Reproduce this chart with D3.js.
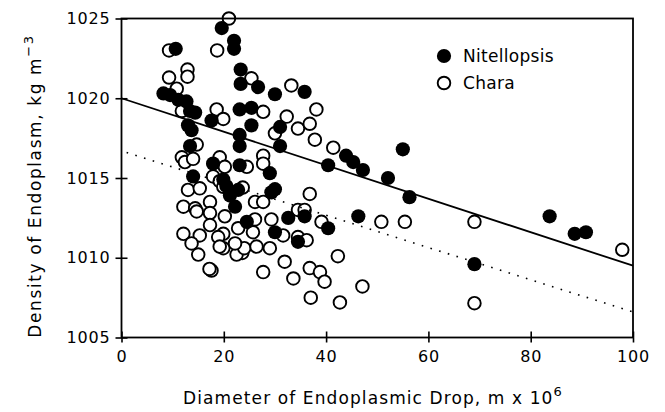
<!DOCTYPE html>
<html>
<head>
<meta charset="utf-8">
<script src="https://cdn.jsdelivr.net/npm/d3@7"></script>
<style>
  body { margin: 0; background: #fff; }
  text { font-family: "DejaVu Sans", sans-serif; fill: #000; }
</style>
</head>
<body>
<div id="chart"></div>
<script>
// Nitellopsis (filled circles)
const nitX = [10.6, 19.6, 22.0, 22.0, 8.2, 9.5, 11.1, 12.7, 13.4, 14.4, 17.6, 13.0, 13.7, 13.4, 17.9, 14.0, 19.9,
  23.3, 23.3, 26.7, 30.0, 35.8, 23.1, 25.4, 25.4, 23.1, 23.1, 31.0, 31.0, 43.9, 40.4, 29.0, 23.1,
  20.5, 22.8, 29.3, 30.0, 21.2, 22.2, 24.5, 32.6, 35.8, 40.4, 30.0, 34.5,
  55.0, 45.3, 47.2, 52.1, 56.3, 46.3, 69.0, 83.7, 88.6, 90.8];
const nitY = [1023.1, 1024.4, 1023.6, 1023.1, 1020.3, 1020.2, 1019.9, 1019.8, 1019.2, 1019.1, 1018.6, 1018.3, 1018.0, 1017.0, 1015.9, 1015.1, 1014.9,
  1021.8, 1020.9, 1020.7, 1020.25, 1020.4, 1019.3, 1019.4, 1018.3, 1017.7, 1017.0, 1018.2, 1017.0, 1016.4, 1015.8, 1015.3, 1015.8,
  1014.5, 1014.25, 1014.1, 1014.3, 1013.9, 1013.2, 1012.25, 1012.5, 1012.6, 1011.85, 1011.6, 1011.0,
  1016.8, 1016.0, 1015.5, 1015.0, 1013.8, 1012.6, 1009.6, 1012.6, 1011.5, 1011.6];

// Chara (open circles)
const charaX = [21.0, 9.3, 18.7, 12.9, 12.9, 9.3, 10.8, 11.8, 18.6, 19.9, 25.4, 33.2, 27.7, 30.0, 32.3, 34.5, 36.8, 38.1,
  37.8, 41.4, 27.7, 27.7, 24.5, 19.2, 20.2, 14.7, 11.8, 12.4, 14.0, 17.9, 19.2, 19.9, 23.7, 36.8,
  26.1, 27.7, 20.2, 26.1, 29.3, 34.5, 35.8, 39.1, 31.6, 34.5, 36.2, 19.9, 19.9, 22.8, 25.7,
  23.0, 23.6, 22.5, 24.0, 22.2, 26.4, 29.0, 31.9, 27.7, 36.8, 38.8, 33.6, 39.7, 37.0, 42.7, 42.3,
  13.0, 15.3, 17.3, 12.1, 14.4, 14.7, 17.3, 17.3, 12.1, 15.3, 18.9, 13.7, 19.2, 15.0, 17.6, 17.2,
  50.8, 55.4, 69.0, 47.1, 69.0, 97.9];
const charaY = [1025.0, 1023.0, 1023.0, 1021.8, 1021.35, 1021.3, 1020.6, 1019.2, 1019.3, 1018.7, 1021.25, 1020.8, 1019.15, 1017.8, 1018.85, 1018.1, 1018.4, 1019.3,
  1017.4, 1016.9, 1016.4, 1015.9, 1015.7, 1016.3, 1015.7, 1017.1, 1016.3, 1016.0, 1016.2, 1015.1, 1014.8, 1014.45, 1014.4, 1014.0,
  1013.5, 1013.5, 1012.6, 1012.4, 1012.4, 1013.0, 1013.0, 1012.25, 1011.4, 1011.3, 1011.1, 1011.5, 1010.6, 1011.85, 1011.6,
  1010.5, 1010.3, 1010.2, 1010.6, 1010.9, 1010.7, 1010.6, 1009.75, 1009.1, 1009.35, 1009.1, 1008.7, 1008.5, 1007.5, 1007.2, 1010.1,
  1014.25, 1014.35, 1013.5, 1013.2, 1013.1, 1012.9, 1012.8, 1012.05, 1011.5, 1011.4, 1011.3, 1010.9, 1010.7, 1010.2, 1009.2, 1009.3,
  1012.25, 1012.25, 1012.25, 1008.2, 1007.15, 1010.5];

// fitted lines
const solidX = [0, 100], solidY = [1020.0, 1009.5];
const dottedX = [1, 100], dottedY = [1016.6, 1006.6];

const xTicks = [0, 20, 40, 60, 80, 100];
const yTicks = [1005, 1010, 1015, 1020, 1025];
const legendNames = ["Nitellopsis", "Chara"];

const width = 665, height = 412;
const plotLeft = 121.5, plotRight = 633, plotTop = 18.5, plotBottom = 337.5;
const r = 6.3;

const svg = d3.select("#chart").append("svg")
  .attr("width", width).attr("height", height);

const x = d3.scaleLinear().domain([0, 100]).range([plotLeft, plotRight]);
const y = d3.scaleLinear().domain([1005, 1025]).range([plotBottom, plotTop]);

// points
const plot = svg.append("g");
plot.selectAll(".chara").data(d3.zip(charaX, charaY)).enter().append("circle")
  .attr("cx", d => x(d[0])).attr("cy", d => y(d[1])).attr("r", r)
  .attr("fill", "#fff").attr("stroke", "#000").attr("stroke-width", 1.9);
plot.selectAll(".nit").data(d3.zip(nitX, nitY)).enter().append("circle")
  .attr("cx", d => x(d[0])).attr("cy", d => y(d[1])).attr("r", r + 0.8)
  .attr("fill", "#000");

// regression lines
const line = d3.line().x(d => x(d[0])).y(d => y(d[1]));
svg.append("path").datum(d3.zip(solidX, solidY)).attr("d", line)
  .attr("stroke", "#000").attr("stroke-width", 1.8).attr("fill", "none");
svg.append("path").datum(d3.zip(dottedX, dottedY)).attr("d", line)
  .attr("stroke", "#000").attr("stroke-width", 1.6).attr("fill", "none")
  .attr("stroke-dasharray", "1.6,7.5");

// frame
svg.append("rect").attr("x", plotLeft).attr("y", plotTop)
  .attr("width", plotRight - plotLeft).attr("height", plotBottom - plotTop)
  .attr("fill", "none").attr("stroke", "#000").attr("stroke-width", 1.8);

// axes: outward ticks with labels, plus inward ticks so they cross the line
svg.append("g").attr("transform", `translate(0,${plotBottom})`)
  .call(d3.axisBottom(x).tickValues(xTicks).tickSize(5).tickPadding(8).tickFormat(d3.format("d")));
svg.append("g").attr("transform", `translate(0,${plotBottom})`)
  .call(d3.axisBottom(x).tickValues(xTicks).tickSize(-6).tickFormat(""));
svg.append("g").attr("transform", `translate(${plotLeft},0)`)
  .call(d3.axisLeft(y).tickValues(yTicks).tickSize(6).tickPadding(5).tickFormat(d3.format("d")));
svg.append("g").attr("transform", `translate(${plotLeft},0)`)
  .call(d3.axisLeft(y).tickValues(yTicks).tickSize(-6).tickFormat(""));
svg.selectAll(".domain").remove();
svg.selectAll(".tick line").attr("stroke", "#000").attr("stroke-width", 1.6);
svg.selectAll(".tick text").style("font-family", "DejaVu Sans")
  .style("font-size", "16px").style("letter-spacing", "0.8px");

// axis titles
const xt = svg.append("text").attr("x", 373).attr("y", 404)
  .attr("text-anchor", "middle").style("font-size", "17px").style("letter-spacing", "1.1px");
xt.append("tspan").text("Diameter of Endoplasmic Drop,  m x 10");
xt.append("tspan").attr("dy", -8).style("font-size", "13px").text("6");

const yt = svg.append("text").attr("transform", "translate(41,186) rotate(-90)")
  .attr("text-anchor", "middle").style("font-size", "17px").style("letter-spacing", "1.6px");
yt.append("tspan").text("Density of Endoplasm,  kg m");
yt.append("tspan").attr("dy", -8).style("font-size", "13px").text("\u22123");

// legend
const leg = svg.append("g");
leg.append("circle").attr("cx", 444).attr("cy", 56).attr("r", r + 0.8).attr("fill", "#000");
leg.append("circle").attr("cx", 444).attr("cy", 83).attr("r", r)
  .attr("fill", "#fff").attr("stroke", "#000").attr("stroke-width", 1.9);
leg.selectAll(".lt").data(legendNames).enter().append("text")
  .attr("x", 463).attr("y", (d, i) => 62 + i * 27)
  .style("font-size", "17px").style("letter-spacing", "0.3px").text(d => d);
</script>
</body>
</html>
